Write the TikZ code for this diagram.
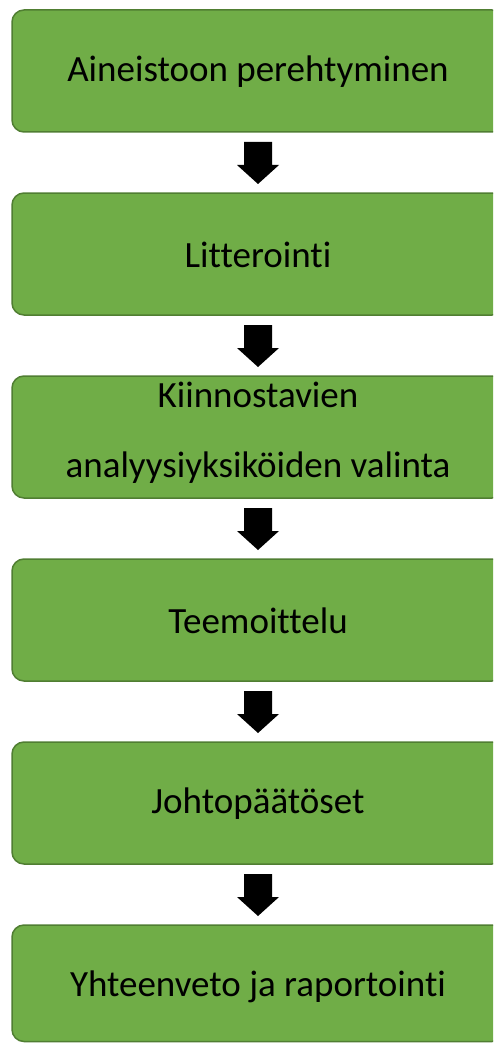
\documentclass[tikz,border=0pt]{standalone}
\usepackage{fontspec}
\setmainfont{Carlito}[Ligatures=NoCommon]
\definecolor{boxgreen}{HTML}{70AD47}
\definecolor{boxedge}{HTML}{507E32}
\tikzset{
  stepbox/.style={draw=boxedge, line width=1.5pt, fill=boxgreen, rounded corners=12pt},
  lbl/.style={font=\fontsize{37}{73}\selectfont, text=black, align=center},
  downarrow/.style={fill=black, draw=none}
}
\begin{document}
\begin{tikzpicture}[x=1pt,y=-1pt]
\useasboundingbox (0,0) rectangle (493,1043);
\clip (0,0) rectangle (493,1043);
% boxes
\foreach \t/\h in {10/122,193/122,376/122,559/122,742/122,925/116.5}{
  \draw[stepbox] (12,\t) rectangle (504,\t+\h);
}
\node[lbl] (b1) at (258,72) {Aineistoon perehtyminen};
\node[lbl] (b2) at (258,255) {Litterointi};
\node[lbl] (b3a) at (258,395) {Kiinnostavien};
\node[lbl] (b3b) at (258,468) {analyysiyksiköiden valinta};
\node[lbl] (b4) at (258,621) {Teemoittelu};
\node[lbl] (b5) at (258,804) {Johtopäätöset};
\node[lbl] (b6) at (258,987) {Yhteenveto ja raportointi};
% arrows
\foreach \t in {142,325,508,691,874}{
  \fill[downarrow] (244,\t) -- (272,\t) -- (272,\t+23) -- (279,\t+23) -- (258,\t+42) -- (237,\t+23) -- (244,\t+23) -- cycle;
}
\end{tikzpicture}
\end{document}
